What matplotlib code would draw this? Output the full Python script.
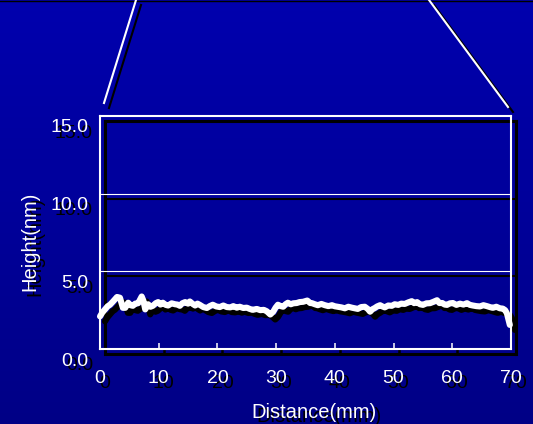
import numpy as np
import matplotlib.pyplot as plt
from matplotlib.colors import LinearSegmentedColormap
from matplotlib.transforms import offset_copy

plt.rcParams['font.family'] = ['Liberation Sans', 'DejaVu Sans']

# surface profile (distance in mm, height in nm)
dist = [0.0, 0.4, 0.85, 1.3, 1.7, 2.2, 2.9, 3.4, 3.9, 4.3, 4.8, 5.2, 5.6, 6.0,
        6.5, 7.1, 7.4, 7.7, 8.2, 8.6, 9.0, 9.5, 9.9, 10.3, 10.7, 11.2, 11.6,
        12.2, 12.8, 13.2, 13.6, 14.0, 14.5, 15.0, 15.3, 15.8, 16.2, 16.6,
        17.0, 17.6, 18.2, 18.7, 19.2, 19.8, 20.4, 21.0, 21.6, 22.2, 22.7,
        23.3, 23.8, 24.4, 25.0, 25.5, 26.0, 26.7, 27.3, 27.9, 28.4, 29.0,
        29.5, 29.9, 30.3, 30.8, 31.2, 31.6, 32.0, 32.5, 32.9, 33.5, 34.0,
        34.6, 35.3, 35.8, 36.1, 36.6, 37.1, 37.7, 38.3, 38.9, 39.5, 40.0,
        40.5, 41.1, 41.7, 42.3, 42.9, 43.4, 43.9, 44.5, 45.1, 45.6, 46.0,
        46.4, 46.8, 47.2, 47.7, 48.1, 48.5, 49.1, 49.7, 50.2, 50.8, 51.3,
        51.9, 52.5, 53.1, 53.5, 54.0, 54.5, 55.0, 55.6, 56.2, 56.8, 57.4,
        57.8, 58.3, 58.7, 59.1, 59.6, 60.1, 60.7, 61.3, 61.9, 62.5, 63.0,
        63.5, 64.1, 64.7, 65.3, 65.9, 66.4, 66.9, 67.5, 68.1, 68.6, 69.0,
        69.3, 69.5, 69.8]
height = [2.10, 2.35, 2.55, 2.75, 2.85, 3.05, 3.35, 3.30, 2.65, 2.65, 2.98,
          2.82, 2.78, 2.92, 2.95, 3.38, 3.10, 2.55, 2.88, 2.72, 2.78, 2.95,
          3.02, 2.86, 2.98, 2.84, 2.80, 2.94, 2.88, 2.86, 2.78, 2.94, 3.02,
          2.92, 3.06, 2.90, 2.80, 2.92, 2.84, 2.70, 2.64, 2.76, 2.85, 2.74,
          2.70, 2.80, 2.70, 2.68, 2.76, 2.66, 2.72, 2.64, 2.66, 2.58, 2.52,
          2.58, 2.50, 2.52, 2.43, 2.22, 2.40, 2.66, 2.85, 2.76, 2.72, 2.88,
          2.98, 2.88, 2.94, 2.96, 3.02, 3.04, 3.12, 2.96, 2.95, 2.88, 2.82,
          2.90, 2.82, 2.76, 2.82, 2.75, 2.72, 2.68, 2.62, 2.72, 2.66, 2.62,
          2.58, 2.70, 2.72, 2.58, 2.40, 2.56, 2.64, 2.74, 2.82, 2.74, 2.68,
          2.80, 2.78, 2.88, 2.84, 2.92, 2.90, 3.00, 3.08, 2.95, 3.02, 2.88,
          2.84, 2.94, 2.95, 3.04, 3.14, 2.96, 2.96, 2.86, 2.84, 2.94, 2.96,
          2.84, 2.92, 2.86, 2.95, 2.84, 2.80, 2.76, 2.74, 2.82, 2.76, 2.70,
          2.65, 2.72, 2.62, 2.60, 2.50, 2.30, 2.00, 1.55]

xticks = [0, 10, 20, 30, 40, 50, 60, 70]
yticks = [0, 5, 10, 15]
ylabels = ['0.0', '5.0', '10.0', '15.0']
grid_levels = [5, 10]

W, H = 533, 424
fig = plt.figure(figsize=(W / 100, H / 100), dpi=100)

# blue gradient backdrop, pixel coordinates (y up)
bg = fig.add_axes([0, 0, 1, 1], zorder=-10)
cmap = LinearSegmentedColormap.from_list('bg', ['#0000ae', '#000086'])
bg.imshow(np.linspace(0, 1, 256).reshape(-1, 1), aspect='auto', cmap=cmap,
          extent=[0, W, 0, H], origin='upper')
bg.set_xlim(0, W)
bg.set_ylim(0, H)
bg.axis('off')
bg.plot([0, W], [H - 0.5, H - 0.5], color='black', lw=1)

# zoom lines from above down to the frame corners
zoom_lines = [((104, 103), (136, 0)), ((429, 0), (508, 107))]
sh = offset_copy(bg.transData, fig=fig, x=5, y=-5, units='dots')
for (x0, y0), (x1, y1) in zoom_lines:
    bg.plot([x0, x1], [H - y0, H - y1], color='black', lw=1.5, transform=sh)
for (x0, y0), (x1, y1) in zoom_lines:
    bg.plot([x0, x1], [H - y0, H - y1], color='white', lw=1.5)


def draw_panel(dx, dy, color, frame_lw, grid_lw):
    ax = fig.add_axes([(100 + dx) / W, (H - 349 - dy) / H, 411 / W, 233 / H])
    ax.set_facecolor('none')
    ax.set_xlim(0, 70)
    ax.set_ylim(0, 15)
    for s in ax.spines.values():
        s.set_color(color)
        s.set_linewidth(frame_lw)
    ax.set_yticks([])
    ax.set_xticks(xticks)
    ax.set_xticklabels([str(t) for t in xticks])
    ax.tick_params(axis='x', direction='in', length=4, width=grid_lw + 0.3,
                   color=color, labelcolor=color, labelsize=14, pad=15)
    for g in grid_levels:
        ax.axhline(g, color=color, lw=grid_lw)
    ax.plot(dist, height, color=color, lw=4.4, solid_capstyle='round',
            solid_joinstyle='round', clip_on=False)

    ytr = offset_copy(ax.get_yaxis_transform(), fig=fig, x=-12, y=-12, units='dots')
    for v, lab in zip(yticks, ylabels):
        ax.text(0, v, lab, transform=ytr, ha='right', va='center',
                color=color, fontsize=14)
    ax.text(0.52, -63 / 233, 'Distance(mm)', transform=ax.transAxes,
            ha='center', va='center', color=color, fontsize=14.5)
    ax.text(-70 / 411, 108 / 233, 'Height(nm)', transform=ax.transAxes,
            rotation=90, ha='center', va='center', color=color, fontsize=14.5)
    return ax


# black drop shadow first, then the white chart on top
draw_panel(5, 5, 'black', 2.2, 1.5)
draw_panel(0, 0, 'white', 1.5, 0.8)

fig.savefig('out.png', dpi=100)
